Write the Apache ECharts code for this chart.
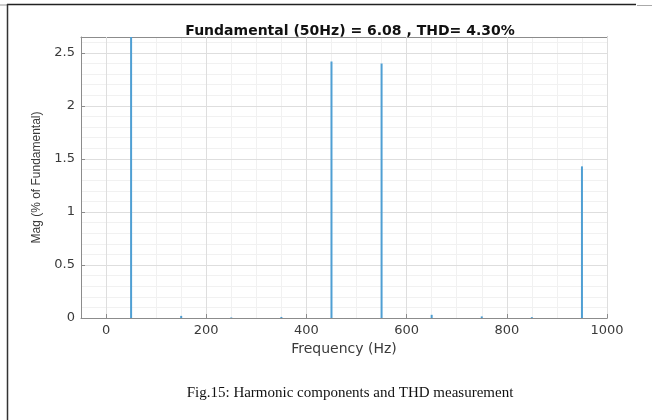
<!DOCTYPE html>
<html><head><meta charset="utf-8">
<script src="https://cdn.jsdelivr.net/npm/echarts@6/dist/echarts.min.js"></script>
<style>html,body{margin:0;padding:0;background:#fff}#c{width:652px;height:420px}</style>
</head><body><div id="c"></div>
<script>
// Data
const titleText = 'Fundamental (50Hz) = 6.08 , THD= 4.30%';
const xName = 'Frequency (Hz)';
const yName = 'Mag (% of Fundamental)';
const caption = 'Fig.15: Harmonic components and THD measurement';
const freqs = [50, 150, 250, 350, 450, 550, 650, 750, 850, 950];
const mags  = [100, 0.02, 0.005, 0.01, 2.42, 2.40, 0.03, 0.015, 0.008, 1.43];
const xTicks = [0, 200, 400, 600, 800, 1000];
const yTicks = [0, 0.5, 1, 1.5, 2, 2.5];

const chart = echarts.init(document.getElementById('c'), null, {renderer: 'canvas'});
const boxColor = '#8c8c8c';
const majorGrid = '#dedede';
const minorGrid = '#f1f1f1';
const lblColor = '#3a3a3a';
const font = 'DejaVu Sans, sans-serif';
const XMIN = -50, XMAX = 1000, YMIN = 0, YMAX = 2.65;

chart.setOption({
  animation: false,
  backgroundColor: '#fff',
  title: {
    text: titleText, left: 345, top: 19, textAlign: 'center',
    textStyle: {fontFamily: font, fontWeight: 'bold', fontSize: 14, color: '#111'}
  },
  grid: {left: 81, right: 45, top: 37, bottom: 102},
  xAxis: [
    { type: 'value', position: 'bottom', min: XMIN, max: XMAX,
      name: xName, nameLocation: 'middle', nameGap: 22,
      nameTextStyle: {fontFamily: font, fontSize: 14, color: lblColor},
      axisLine: {show: true, onZero: false, lineStyle: {color: boxColor, width: 1}},
      axisTick: {show: true, inside: true, length: 4, customValues: xTicks, lineStyle: {color: boxColor}},
      axisLabel: {customValues: xTicks, formatter: v => String(v), fontFamily: font, fontSize: 13, color: lblColor, margin: 6},
      splitLine: {show: true, lineStyle: {color: majorGrid, width: 1}}, z: 3 },
    { type: 'value', position: 'top', min: XMIN, max: XMAX,
      axisLine: {show: true, onZero: false, lineStyle: {color: boxColor, width: 1}},
      axisTick: {show: true, inside: true, length: 4, customValues: xTicks, lineStyle: {color: boxColor}},
      axisLabel: {show: false},
      splitLine: {show: false} },
    { type: 'value', position: 'top', min: XMIN, max: XMAX, interval: 50,
      axisLine: {show: false, onZero: false}, axisTick: {show: false}, axisLabel: {show: false},
      splitLine: {show: true, lineStyle: {color: minorGrid, width: 1}}, z: 0 }
  ],
  yAxis: [
    { type: 'value', position: 'left', min: YMIN, max: YMAX,
      name: yName, nameLocation: 'middle', nameGap: 38, nameRotate: 90,
      nameTextStyle: {fontFamily: 'Liberation Sans, Arial, sans-serif', fontSize: 12, color: lblColor},
      axisLine: {show: true, onZero: false, lineStyle: {color: boxColor, width: 1}},
      axisTick: {show: true, inside: true, length: 4, customValues: yTicks, lineStyle: {color: boxColor}},
      axisLabel: {customValues: yTicks, formatter: v => String(v), fontFamily: font, fontSize: 13, color: lblColor, margin: 6},
      splitLine: {show: true, lineStyle: {color: majorGrid, width: 1}}, z: 3 },
    { type: 'value', position: 'right', min: YMIN, max: YMAX,
      axisLine: {show: true, onZero: false, lineStyle: {color: boxColor, width: 1}},
      axisTick: {show: true, inside: true, length: 4, customValues: yTicks, lineStyle: {color: boxColor}},
      axisLabel: {show: false}, splitLine: {show: false} },
    { type: 'value', position: 'right', min: YMIN, max: YMAX, interval: 0.1,
      axisLine: {show: false, onZero: false}, axisTick: {show: false}, axisLabel: {show: false},
      splitLine: {show: true, lineStyle: {color: minorGrid, width: 1}}, z: 0 }
  ],
  series: [{
    type: 'bar', xAxisIndex: 0, yAxisIndex: 0, barWidth: 2, clip: true,
    itemStyle: {color: '#4f9fd3'},
    data: freqs.map((f, i) => [f, mags[i]]), z: 5
  }],
  graphic: [
    {type: 'line', shape: {x1: 7, y1: 4.5, x2: 636, y2: 4.5}, style: {stroke: '#222', lineWidth: 1.5}},
    {type: 'line', shape: {x1: 0, y1: 5, x2: 7, y2: 5}, style: {stroke: '#999', lineWidth: 1}},
    {type: 'line', shape: {x1: 637, y1: 5.5, x2: 652, y2: 5.5}, style: {stroke: '#aaa', lineWidth: 1}},
    {type: 'line', shape: {x1: 7.5, y1: 4, x2: 7.5, y2: 420}, style: {stroke: '#333', lineWidth: 1.5}},
    {type: 'text', x: 350, y: 393,
     style: {text: caption, fontFamily: 'Liberation Serif, Times New Roman, serif', fontSize: 15, fill: '#111', align: 'center', verticalAlign: 'middle'}}
  ]
});
</script>
</body></html>
